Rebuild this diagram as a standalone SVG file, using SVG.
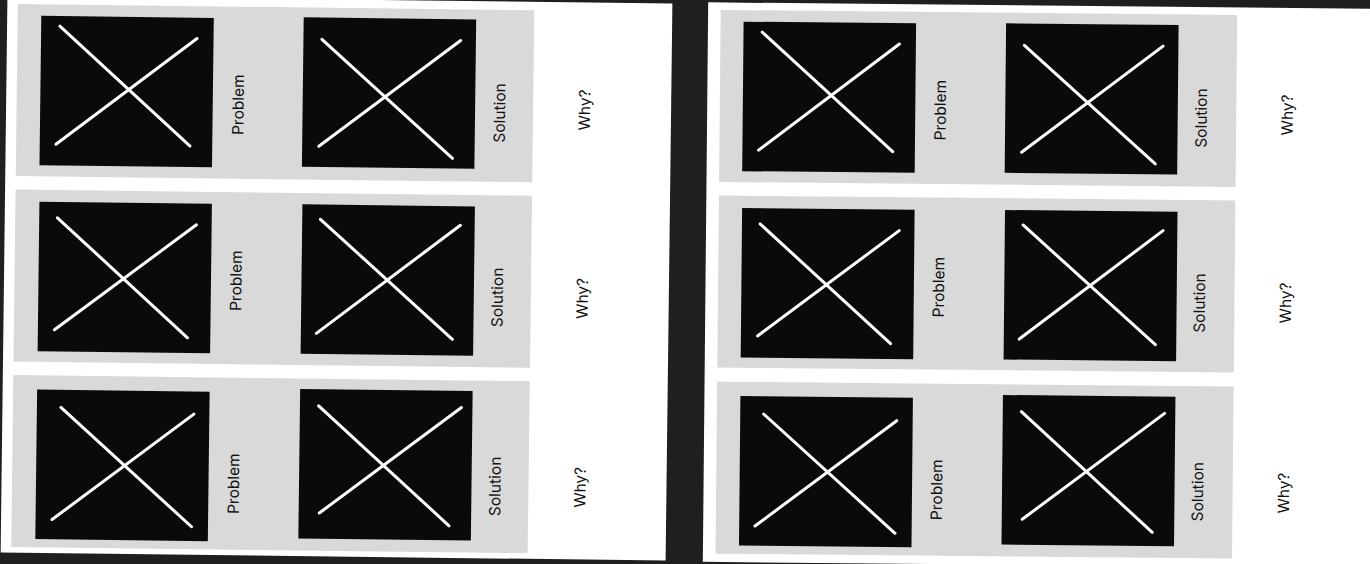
<svg xmlns="http://www.w3.org/2000/svg" width="1370" height="564" viewBox="0 0 1370 564">
<style>
.bg{fill:#1f1f1f}
.page{fill:#ffffff}
.row{fill:#d9d9d9}
.img{fill:#0a0a0a}
.x{stroke:#ffffff;stroke-width:3;stroke-linecap:round;fill:none}
.lbl{font-family:Inter,"Liberation Sans",sans-serif;font-size:15.5px;fill:#111111;text-anchor:middle;dominant-baseline:central}
</style>
<rect class="bg" x="0" y="0" width="1370" height="564"/>

<!-- LEFT PAGE -->
<g id="page-left" transform="rotate(0.7 337 280) translate(14.5 7.9)">
  <rect class="page" x="-10.5" y="-8.4" width="665" height="557"/>
  <g id="L-row1">
    <rect class="row" x="0" y="0" width="516.5" height="172"/>
    <g id="L-r1-problem-img" transform="translate(23.6 11.5)">
      <rect class="img" width="172.5" height="149.5"/>
      <line class="x" x1="18.7" y1="10.2" x2="150.3" y2="128.5"/>
      <line class="x" x1="156" y1="20.8" x2="16.2" y2="128.3"/>
    </g>
    <g id="L-r1-solution-img" transform="translate(286 9.8)">
      <rect class="img" width="172.5" height="149.5"/>
      <line class="x" x1="18.5" y1="21.8" x2="150.5" y2="139.2"/>
      <line class="x" x1="157.2" y1="21.3" x2="16.7" y2="128.8"/>
    </g>
    <text id="L-r1-problem" class="lbl" transform="translate(221.5 98) rotate(-90)">Problem</text>
    <text id="L-r1-solution" class="lbl" transform="translate(483 103) rotate(-90)">Solution</text>
    <text id="L-r1-why" class="lbl" transform="translate(568 99) rotate(-90)">Why?</text>
  </g>
  <g id="L-row2" transform="translate(0 185.5)">
    <rect class="row" x="0" y="0" width="516.5" height="172"/>
    <g id="L-r2-problem-img" transform="translate(24 12)">
      <rect class="img" width="172.5" height="149.5"/>
      <line class="x" x1="18.2" y1="15.8" x2="149.7" y2="134.2"/>
      <line class="x" x1="157.3" y1="21.1" x2="16.6" y2="127.8"/>
    </g>
    <g id="L-r2-solution-img" transform="translate(287 11.3)">
      <rect class="img" width="172.5" height="149.5"/>
      <line class="x" x1="18.2" y1="14.8" x2="151.6" y2="133.2"/>
      <line class="x" x1="158.2" y1="19.1" x2="15.5" y2="128.9"/>
    </g>
    <text id="L-r2-problem" class="lbl" transform="translate(221.5 88.5) rotate(-90)">Problem</text>
    <text id="L-r2-solution" class="lbl" transform="translate(483 102) rotate(-90)">Solution</text>
    <text id="L-r2-why" class="lbl" transform="translate(568 102) rotate(-90)">Why?</text>
  </g>
  <g id="L-row3" transform="translate(0 371)">
    <rect class="row" x="0" y="0" width="516.5" height="172"/>
    <g id="L-r3-problem-img" transform="translate(24 14.3)">
      <rect class="img" width="172.5" height="149.5"/>
      <line class="x" x1="24" y1="17.6" x2="156" y2="135.3"/>
      <line class="x" x1="157" y1="22.7" x2="16.5" y2="129.8"/>
    </g>
    <g id="L-r3-solution-img" transform="translate(287 10.5)">
      <rect class="img" width="172.5" height="149.5"/>
      <line class="x" x1="18.7" y1="16.7" x2="150.5" y2="135"/>
      <line class="x" x1="161.5" y1="16.6" x2="20.7" y2="123.8"/>
    </g>
    <text id="L-r3-problem" class="lbl" transform="translate(221.5 106) rotate(-90)">Problem</text>
    <text id="L-r3-solution" class="lbl" transform="translate(483 105.5) rotate(-90)">Solution</text>
    <text id="L-r3-why" class="lbl" transform="translate(568 105.5) rotate(-90)">Why?</text>
  </g>
</g>

<!-- RIGHT PAGE -->
<g id="page-right" transform="rotate(0.55 1035 285) translate(718.1 13)">
  <rect class="page" x="-12.6" y="-7.5" width="700" height="559.5"/>
  <g id="R-row1">
    <rect class="row" x="0" y="0" width="516.5" height="172"/>
    <g id="R-r1-problem-img" transform="translate(23 11.5)">
      <rect class="img" width="172.5" height="149.5"/>
      <line class="x" x1="18.7" y1="10.2" x2="150.3" y2="128.5"/>
      <line class="x" x1="156" y1="20.8" x2="16.2" y2="128.3"/>
    </g>
    <g id="R-r1-solution-img" transform="translate(285.5 10.6)">
      <rect class="img" width="172.5" height="149.5"/>
      <line class="x" x1="18.5" y1="21.8" x2="150.5" y2="139.2"/>
      <line class="x" x1="157.2" y1="21.3" x2="16.7" y2="128.8"/>
    </g>
    <text id="R-r1-problem" class="lbl" transform="translate(220.5 98) rotate(-90)">Problem</text>
    <text id="R-r1-solution" class="lbl" transform="translate(481.5 103.5) rotate(-90)">Solution</text>
    <text id="R-r1-why" class="lbl" transform="translate(567.5 99.5) rotate(-90)">Why?</text>
  </g>
  <g id="R-row2" transform="translate(0 185.5)">
    <rect class="row" x="0" y="0" width="516.5" height="172"/>
    <g id="R-r2-problem-img" transform="translate(23.3 12.3)">
      <rect class="img" width="172.5" height="149.5"/>
      <line class="x" x1="18.2" y1="15.8" x2="149.7" y2="134.2"/>
      <line class="x" x1="157.3" y1="21.1" x2="16.6" y2="127.8"/>
    </g>
    <g id="R-r2-solution-img" transform="translate(286.2 11.8)">
      <rect class="img" width="172.5" height="149.5"/>
      <line class="x" x1="18.2" y1="14.8" x2="151.6" y2="133.2"/>
      <line class="x" x1="158.2" y1="19.1" x2="15.5" y2="128.9"/>
    </g>
    <text id="R-r2-problem" class="lbl" transform="translate(220.5 89.5) rotate(-90)">Problem</text>
    <text id="R-r2-solution" class="lbl" transform="translate(481.5 103) rotate(-90)">Solution</text>
    <text id="R-r2-why" class="lbl" transform="translate(567.5 102) rotate(-90)">Why?</text>
  </g>
  <g id="R-row3" transform="translate(0 371.7)">
    <rect class="row" x="0" y="0" width="516.5" height="172"/>
    <g id="R-r3-problem-img" transform="translate(23.4 14.1)">
      <rect class="img" width="172.5" height="149.5"/>
      <line class="x" x1="23.4" y1="17.8" x2="155.9" y2="135.8"/>
      <line class="x" x1="156.5" y1="23.2" x2="15.8" y2="129.9"/>
    </g>
    <g id="R-r3-solution-img" transform="translate(285.9 10.6)">
      <rect class="img" width="172.5" height="149.5"/>
      <line class="x" x1="18.6" y1="16.5" x2="150.6" y2="135.9"/>
      <line class="x" x1="161.8" y1="16.8" x2="20.5" y2="124.1"/>
    </g>
    <text id="R-r3-problem" class="lbl" transform="translate(220.5 106) rotate(-90)">Problem</text>
    <text id="R-r3-solution" class="lbl" transform="translate(481.5 105.5) rotate(-90)">Solution</text>
    <text id="R-r3-why" class="lbl" transform="translate(567.5 106) rotate(-90)">Why?</text>
  </g>
</g>
<g id="connectors"/>
</svg>
